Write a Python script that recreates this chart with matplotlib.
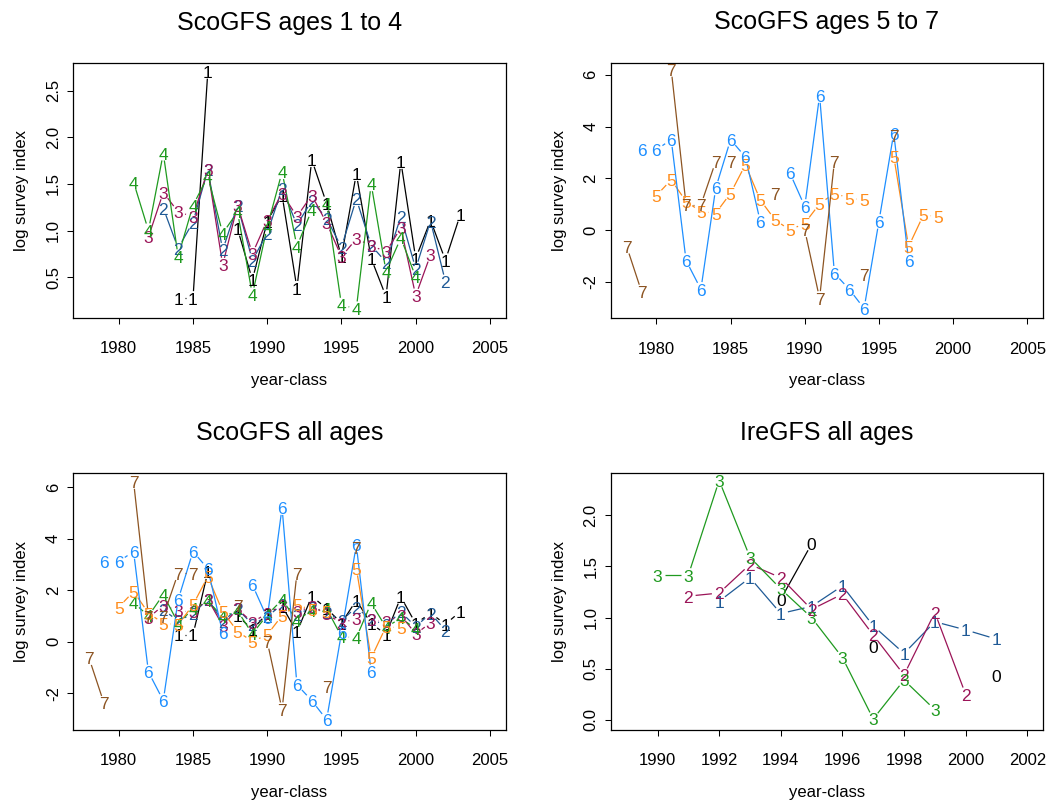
import numpy as np
import matplotlib
matplotlib.use("Agg")
import matplotlib.pyplot as plt
from matplotlib.collections import LineCollection

plt.rcParams['font.family'] = ['Liberation Sans', 'DejaVu Sans']
plt.rcParams['axes.unicode_minus'] = False

nan = np.nan

# ScoGFS year-classes
sco_years = [1978, 1979, 1980, 1981, 1982, 1983, 1984, 1985, 1986, 1987, 1988, 1989, 1990,
             1991, 1992, 1993, 1994, 1995, 1996, 1997, 1998, 1999, 2000, 2001, 2002, 2003]
sco_age1 = [nan, nan, nan, nan, nan, nan, 0.27, 0.27, 2.71, nan, 1.02, 0.47, 1.10,
            1.38, 0.38, 1.76, 1.29, 0.72, 1.61, 0.70, 0.29, 1.74, 0.70, 1.11, 0.68, 1.17]
sco_age2 = [nan, nan, nan, nan, nan, 1.24, 0.81, 1.09, 1.65, 0.79, 1.27, 0.68, 0.97,
            1.45, 1.06, 1.32, 1.13, 0.82, 1.34, 0.84, 0.66, 1.15, 0.59, 1.10, 0.45, nan]
sco_age3 = [nan, nan, nan, nan, 0.93, 1.41, 1.20, 1.15, 1.65, 0.63, 1.27, 0.75, 1.11,
            1.40, 1.15, 1.38, 1.08, 0.72, 0.91, 0.84, 0.77, 1.03, 0.30, 0.74, nan, nan]
sco_age4 = [nan, nan, nan, 1.52, 1.00, 1.83, 0.72, 1.27, 1.58, 0.97, 1.20, 0.31, 1.04,
            1.63, 0.83, 1.22, 1.29, 0.20, 0.16, 1.50, 0.56, 0.92, 0.50, nan, nan, nan]
sco_age5 = [nan, nan, 1.34, 1.95, 1.11, 0.72, 0.66, 1.43, 2.53, 1.17, 0.40, 0.01, 0.27,
            1.02, 1.43, 1.24, 1.17, nan, 2.85, -0.63, 0.59, 0.53, nan, nan, nan, nan]
sco_age6 = [nan, 3.11, 3.11, 3.50, -1.17, -2.28, 1.63, 3.50, 2.83, 0.34, nan, 2.21, 0.92,
            5.20, -1.66, -2.28, -3.02, 0.34, 3.75, -1.17, nan, nan, nan, nan, nan, nan]
sco_age7 = [-0.63, -2.37, nan, 6.21, 0.98, 0.98, 2.66, 2.66, nan, nan, 1.41, nan, 0.01,
            -2.63, 2.66, nan, -1.73, nan, 3.65, nan, nan, nan, nan, nan, nan, nan]

# IreGFS year-classes
ire_years = [1990, 1991, 1992, 1993, 1994, 1995, 1996, 1997, 1998, 1999, 2000, 2001]
ire_age0 = [nan, nan, nan, nan, 1.18, 1.72, nan, 0.72, nan, nan, nan, 0.43]
ire_age1 = [nan, nan, 1.16, 1.39, 1.04, 1.11, 1.31, 0.92, 0.65, 0.96, 0.88, 0.79]
ire_age2 = [nan, 1.21, 1.24, 1.52, 1.39, 1.08, 1.23, 0.83, 0.44, 1.05, 0.25, nan]
ire_age3 = [1.415, 1.415, 2.34, 1.59, 1.28, 1.00, 0.61, 0.01, 0.39, 0.10, nan, nan]

# colours by column
col_k = "#000000"
col_b = "#1f5a96"
col_p = "#9b1458"
col_g = "#1f9a1f"
col_o = "#ff8c1a"
col_lb = "#1e8fff"
col_br = "#8c5422"

GAP = 7.3  # pixels left free around each symbol (R type="b")

fig = plt.figure(figsize=(10.5, 8.06), dpi=100)

W, H = 1050.0, 806.0


def make_ax(left, top, right, bottom):
    return fig.add_axes([left / W, 1 - bottom / H, (right - left) / W, (bottom - top) / H])


def style(ax, title, xlim, ylim, xticks, yticks, ytlabels):
    ax.set_xlim(xlim)
    ax.set_ylim(ylim)
    ax.set_xticks(xticks)
    ax.set_xticklabels([str(t) for t in xticks])
    ax.set_yticks(yticks)
    ax.set_yticklabels(ytlabels, rotation=90, va='center')
    ax.tick_params(axis='x', length=4.3, width=0.75, pad=12.5, labelsize=12)
    ax.tick_params(axis='y', length=4.3, width=0.75, pad=4.4, labelsize=12)
    for s in ax.spines.values():
        s.set_linewidth(0.9)
    ax.set_title(title, fontsize=18, pad=24)
    ax.set_xlabel("year-class", fontsize=12, va='center')
    ax.set_ylabel("log survey index", fontsize=12, va='center')
    bb = ax.get_position()
    ax.xaxis.set_label_coords(0.5, -62.0 / (bb.height * H))
    ax.yaxis.set_label_coords(-51.0 / (bb.width * W), 0.5)


def b_series(ax, x, y, label, col):
    x = np.asarray(x, float)
    y = np.asarray(y, float)
    pts = ax.transData.transform(np.column_stack([x, y]))
    inv = ax.transData.inverted()
    segs = []
    for i in range(1, len(x)):
        p0, p1 = pts[i - 1], pts[i]
        if not (np.all(np.isfinite(p0)) and np.all(np.isfinite(p1))):
            continue
        d = p1 - p0
        L = np.hypot(d[0], d[1])
        if L <= 2 * GAP:
            continue
        u = d / L
        segs.append(inv.transform(np.array([p0 + GAP * u, p1 - GAP * u])))
    ax.add_collection(LineCollection(segs, colors=col, linewidths=0.9))
    for xi, yi in zip(x, y):
        if np.isfinite(yi):
            ax.annotate(label, (xi, yi), xytext=(0, -4.6), textcoords='offset points',
                        ha='center', va='baseline', fontsize=12.5, color=col)


sco_xlim = (1976.92, 2006.08)
sco_xt = [1980, 1985, 1990, 1995, 2000, 2005]

# ScoGFS ages 1 to 4
ax1 = make_ax(73, 63, 506, 318)
style(ax1, "ScoGFS ages 1 to 4", sco_xlim, (0.06, 2.80), sco_xt,
      [0.5, 1.0, 1.5, 2.0, 2.5], ["0.5", "1.0", "1.5", "2.0", "2.5"])
for lab, ser, c in [("1", sco_age1, col_k), ("2", sco_age2, col_b),
                    ("3", sco_age3, col_p), ("4", sco_age4, col_g)]:
    b_series(ax1, sco_years, ser, lab, c)

# ScoGFS ages 5 to 7
ax2 = make_ax(610.7, 62.7, 1043.3, 318.3)
style(ax2, "ScoGFS ages 5 to 7", sco_xlim, (-3.40, 6.47), sco_xt,
      [-2, 0, 2, 4, 6], ["-2", "0", "2", "4", "6"])
for lab, ser, c in [("5", sco_age5, col_o), ("6", sco_age6, col_lb), ("7", sco_age7, col_br)]:
    b_series(ax2, sco_years, ser, lab, c)

# ScoGFS all ages
ax3 = make_ax(73, 473.3, 506, 730)
style(ax3, "ScoGFS all ages", sco_xlim, (-3.42, 6.53), sco_xt,
      [-2, 0, 2, 4, 6], ["-2", "0", "2", "4", "6"])
for lab, ser, c in [("1", sco_age1, col_k), ("2", sco_age2, col_b), ("3", sco_age3, col_p),
                    ("4", sco_age4, col_g), ("5", sco_age5, col_o), ("6", sco_age6, col_lb),
                    ("7", sco_age7, col_br)]:
    b_series(ax3, sco_years, ser, lab, c)

# IreGFS all ages
ax4 = make_ax(610.7, 473.3, 1043.3, 730)
style(ax4, "IreGFS all ages", (1988.48, 2002.52), (-0.098, 2.41),
      [1990, 1992, 1994, 1996, 1998, 2000, 2002],
      [0.0, 0.5, 1.0, 1.5, 2.0], ["0.0", "0.5", "1.0", "1.5", "2.0"])
for lab, ser, c in [("0", ire_age0, col_k), ("1", ire_age1, col_b),
                    ("2", ire_age2, col_p), ("3", ire_age3, col_g)]:
    b_series(ax4, ire_years, ser, lab, c)

fig.savefig("out.png", dpi=100)
